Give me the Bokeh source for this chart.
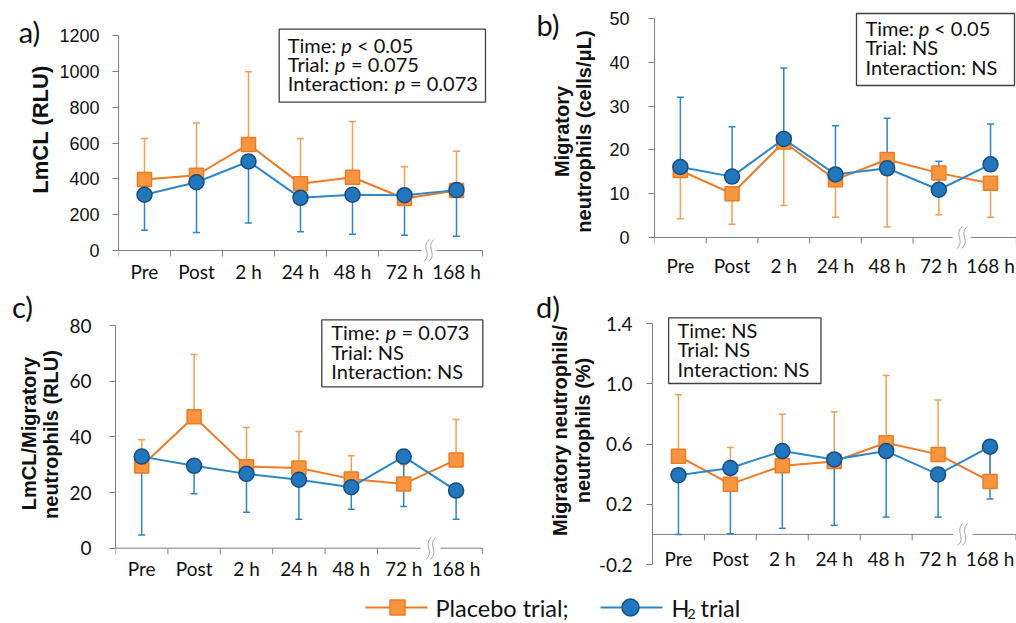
import math
from bokeh.plotting import figure
from bokeh.models import Range1d, FixedTicker, NumeralTickFormatter
from bokeh.layouts import column, row
from bokeh.embed import file_html
from bokeh.resources import INLINE
from bokeh.core.properties import value

# ---------------- data ----------------
categories = ["Pre", "Post", "2 h", "24 h", "48 h", "72 h", "168 h"]

# a) LmCL (RLU)
placebo_a = [396, 420, 592, 372, 409, 290, 335]
placebo_a_err = [625, 712, 997, 625, 720, 468, 554]
h2_a = [311, 381, 497, 294, 311, 309, 337]
h2_a_err = [113, 100, 154, 104, 91, 85, 80]

# b) Migratory neutrophils (cells/uL)
placebo_b = [15.3, 10.0, 21.8, 13.2, 17.8, 14.7, 12.4]
placebo_b_err = [4.3, 3.0, 7.3, 4.6, 2.4, 5.2, 4.6]
h2_b = [16.1, 13.9, 22.5, 14.4, 15.8, 10.9, 16.7]
h2_b_err = [32.0, 25.3, 38.7, 25.5, 27.2, 17.4, 25.9]

# c) LmCL / Migratory neutrophils (RLU)
placebo_c = [29.5, 47.2, 29.3, 28.8, 24.9, 23.1, 31.7]
placebo_c_err = [39.0, 69.6, 43.4, 41.9, 33.2, 30.0, 46.2]
h2_c = [32.9, 29.6, 26.7, 24.6, 21.9, 32.9, 20.7]
h2_c_err = [4.7, 19.6, 12.9, 10.4, 14.0, 15.0, 10.4]

# d) Migratory neutrophils / neutrophils (%)
placebo_d = [0.52, 0.334, 0.456, 0.485, 0.609, 0.532, 0.352]
placebo_d_err = [0.929, 0.578, 0.798, 0.816, 1.056, 0.893, 0.55]
h2_d = [0.394, 0.441, 0.554, 0.498, 0.554, 0.399, 0.583]
h2_d_err = [0.0, 0.004, 0.04, 0.06, 0.115, 0.115, 0.235]

yticks_a = [0, 200, 400, 600, 800, 1000, 1200]
yticks_b = [0, 10, 20, 30, 40, 50]
yticks_c = [0, 20, 40, 60, 80]
yticks_d = [-0.2, 0.2, 0.6, 1.0, 1.4]

# ---------------- style ----------------
ORANGE_LINE = "#F07A22"
ORANGE_FILL = "#F7963F"
ORANGE_ERR = "#F8A050"
BLUE_LINE = "#2A88C8"
BLUE_FILL = "#1F78BE"
BLUE_EDGE = "#1B4C7E"
BLUE_ERR = "#2A88C8"
AXIS = "#7F7F7F"
TXT = "#111111"
CAL = "Lato"
ARIAL = "Liberation Sans"

ROW1_H = 285
ROW2_H = 295

panels = [
    dict(letter="a)", fig=(0, 0, 508, ROW1_H), axis_x=118, axis_w=62, cat_w=52,
         cal=((0, 250), (1200, 35)), yticks=yticks_a, fmt=None,
         tick_font=ARIAL, tick_size="18px", standoff=13,
         data=(placebo_a, placebo_a_err, h2_a, h2_a_err),
         label_y=270.7, gap=(420.7, 436), waves=(426, 431),
         letter_pos=(29, 31),
         titles=[("LmCL (RLU)", 40, 129, "22px")],
         box=(278.7, 28.7, 485, 101.7),
         lines=[[(287.3, 44, "Time: ", False), (340.7, 44, "p", True), (356.5, 44, "< 0.05", False)],
                [(287.3, 63.3, "Trial: ", False), (334.3, 63.3, "p", True), (350.5, 63.3, "= 0.075", False)],
                [(287.3, 82.7, "Interaction: ", False), (394.3, 82.7, "p", True), (409.5, 82.7, "= 0.073", False)]]),
    dict(letter="b)", fig=(508, 0, 508, ROW1_H), axis_x=654, axis_w=55, cat_w=51.7,
         cal=((0, 237), (50, 18)), yticks=yticks_b, fmt=None,
         tick_font=ARIAL, tick_size="18px", standoff=19,
         data=(placebo_b, placebo_b_err, h2_b, h2_b_err),
         label_y=265, gap=(952, 970.7), waves=(959, 964),
         letter_pos=(547.5, 24),
         titles=[("Migratory", 561.7, 131, "20px"), ("neutrophils (cells/\u03bcL)", 583.3, 131, "20px")],
         box=(856, 13, 1014, 85),
         lines=[[(865, 27.7, "Time: ", False), (918.3, 27.7, "p", True), (933.5, 27.7, "< 0.05", False)],
                [(865, 46.7, "Trial: NS", False)],
                [(865, 66.7, "Interaction: NS", False)]]),
    dict(letter="c)", fig=(0, ROW1_H, 508, ROW2_H), axis_x=115, axis_w=50, cat_w=52.4,
         cal=((0, 547.7), (80, 325)), yticks=yticks_c, fmt=None,
         tick_font=CAL, tick_size="19px", standoff=18,
         data=(placebo_c, placebo_c_err, h2_c, h2_c_err),
         label_y=568.3, gap=(420, 440), waves=(428.3, 432.7),
         letter_pos=(22, 306),
         titles=[("LmCL/Migratory", 28.3, 433, "20px"), ("neutrophils (RLU)", 50, 434, "20px")],
         box=(321.3, 319.3, 482.3, 386.3),
         lines=[[(330.7, 331.7, "Time: ", False), (385, 331.7, "p", True), (401, 331.7, "= 0.073", False)],
                [(330.7, 351, "Trial: NS", False)],
                [(330.7, 370.7, "Interaction: NS", False)]]),
    dict(letter="d)", fig=(508, ROW1_H, 508, ROW2_H), axis_x=648, axis_w=53, cat_w=52.5,
         cal=((-0.2, 564), (1.4, 323.3)), yticks=yticks_d, fmt="0.0",
         tick_font=CAL, tick_size="19px", standoff=14,
         data=(placebo_d, placebo_d_err, h2_d, h2_d_err),
         label_y=558.3, gap=(951.7, 971.7), waves=(959.3, 964),
         letter_pos=(547.5, 305.5),
         titles=[("Migratory neutrophils/", 559.5, 430, "20px"), ("neutrophils (%)", 582, 430, "20px")],
         box=(664.3, 317.3, 818.3, 383),
         lines=[[(673.3, 329.3, "Time: NS", False)],
                [(673.3, 348.3, "Trial: NS", False)],
                [(673.3, 368.3, "Interaction: NS", False)]]),
]


def bare_fig(x0, y0, w, h):
    """A figure whose whole canvas is frame, data coordinates = page pixels."""
    f = figure(width=w, height=h, title=None, toolbar_location=None, output_backend="svg",
               x_axis_location=None, y_axis_location=None,
               x_range=Range1d(x0, x0 + w), y_range=Range1d(y0 + h, y0), min_border=0)
    f.outline_line_color = None
    f.grid.visible = False
    return f


def make_panel(cfg):
    fx, fy, W, H = cfg["fig"]
    ax_x = cfg["axis_x"]
    M = cfg["axis_w"]
    cw = cfg["cat_w"]
    (v0, p0), (v1, p1) = cfg["cal"]
    ppu = (p0 - p1) / (v1 - v0)

    # left strip with panel letter and y-axis title
    tw = ax_x - M - fx
    tf = bare_fig(fx, fy, tw, H)
    lx, ly = cfg["letter_pos"]
    tf.text(x=[lx], y=[ly], text=[cfg["letter"]], text_align="center", text_baseline="middle",
            text_font=value(CAL), text_font_size="29px", text_color=TXT)
    for (t, tx, ty, fs) in cfg["titles"]:
        tf.text(x=[tx], y=[ty], text=[t], angle=math.pi / 2, text_align="center",
                text_baseline="middle", text_font=value(ARIAL), text_font_style="bold",
                text_font_size=fs, text_color=TXT)

    def X(px):
        return (px - ax_x) / cw

    def Y(py):
        return v0 + (p0 - py) / ppu

    px0 = fx + tw
    pw = W - tw
    p = figure(width=pw, height=H, title=None, toolbar_location=None,
               output_backend="svg", x_axis_location=None,
               x_range=Range1d(X(px0 + M), X(px0 + pw)), y_range=Range1d(Y(fy + H), Y(fy)),
               min_border=0, min_border_left=M)
    p.outline_line_color = None
    p.grid.visible = False

    yt = cfg["yticks"]
    ax = p.yaxis[0]
    ax.ticker = FixedTicker(ticks=yt)
    ax.bounds = (yt[0], yt[-1])
    if cfg["fmt"]:
        ax.formatter = NumeralTickFormatter(format=cfg["fmt"])
    ax.axis_line_color = AXIS
    ax.major_tick_line_color = AXIS
    ax.major_tick_out = 6
    ax.major_tick_in = 0
    ax.minor_tick_line_color = None
    ax.major_label_text_font = cfg["tick_font"]
    ax.major_label_text_font_size = cfg["tick_size"]
    ax.major_label_text_color = TXT
    ax.major_label_standoff = cfg["standoff"]

    xs = [i + 0.5 for i in range(len(categories))]
    n = len(categories)

    # horizontal axis with break
    g0, g1 = X(cfg["gap"][0]), X(cfg["gap"][1])
    p.segment(x0=[0, g1], y0=[0, 0], x1=[g0, n], y1=[0, 0], line_color=AXIS, line_width=1)
    tick_x = [t for t in range(n + 1) if t != n - 1]
    p.segment(x0=tick_x, y0=[0] * len(tick_x), x1=tick_x, y1=[-6 / ppu] * len(tick_x),
              line_color=AXIS, line_width=1)
    wx = [X(w) for w in cfg["waves"]]
    p.bezier(x0=[w + 2.5 / cw for w in wx], y0=[11 / ppu] * 2,
             x1=[w - 2.5 / cw for w in wx], y1=[-11 / ppu] * 2,
             cx0=[w - 6 / cw for w in wx], cy0=[3 / ppu] * 2,
             cx1=[w + 6 / cw for w in wx], cy1=[-3 / ppu] * 2,
             line_color="#A6A6A6", line_width=1)
    p.text(x=xs, y=[Y(cfg["label_y"])] * n, text=categories, text_align="center",
           text_baseline="middle", text_font=value(CAL), text_font_size="19px",
           text_color=TXT)

    pl, pl_err, h2, h2_err = cfg["data"]
    # error bars (one-sided)
    p.segment(x0=xs, y0=pl, x1=xs, y1=pl_err, line_color=ORANGE_ERR, line_width=1.5)
    p.scatter(x=xs, y=pl_err, marker="dash", size=7, line_color=ORANGE_ERR, line_width=1.5)
    p.segment(x0=xs, y0=h2, x1=xs, y1=h2_err, line_color=BLUE_ERR, line_width=1.5)
    p.scatter(x=xs, y=h2_err, marker="dash", size=7, line_color=BLUE_ERR, line_width=1.5)
    # series
    p.line(x=xs, y=pl, line_color=ORANGE_LINE, line_width=2)
    p.scatter(x=xs, y=pl, marker="square", size=14, fill_color=ORANGE_FILL,
              line_color=ORANGE_LINE, line_width=1.5)
    p.line(x=xs, y=h2, line_color=BLUE_LINE, line_width=2)
    p.scatter(x=xs, y=h2, marker="circle", size=15, fill_color=BLUE_FILL,
              line_color=BLUE_EDGE, line_width=1.5)

    # stats box
    bx0, by0, bx1, by1 = cfg["box"]
    p.quad(left=[X(bx0)], right=[X(bx1)], top=[Y(by0)], bottom=[Y(by1)],
           fill_color="white", line_color="#404040", line_width=1.3)
    for line in cfg["lines"]:
        for (px, py, t, it) in line:
            p.text(x=[X(px)], y=[Y(py)], text=[t], text_align="left", text_baseline="middle",
                   text_font=value(CAL), text_font_size="20px", text_color=TXT,
                   text_font_style="italic" if it else "normal")
    return tf, p


pa = make_panel(panels[0])
pb = make_panel(panels[1])
pc = make_panel(panels[2])
pd = make_panel(panels[3])

# ---------------- legend strip ----------------
leg = bare_fig(0, 580, 1016, 43)
LY = 607
leg.line(x=[365, 427], y=[LY, LY], line_color=ORANGE_LINE, line_width=2)
leg.scatter(x=[397], y=[LY], marker="square", size=15, fill_color=ORANGE_FILL,
            line_color=ORANGE_LINE, line_width=1.5)
leg.text(x=[435], y=[LY], text=["Placebo trial;"], text_align="left", text_baseline="middle",
         text_font=value(CAL), text_font_size="23.5px", text_color=TXT)
leg.line(x=[600, 662], y=[LY, LY], line_color=BLUE_LINE, line_width=2)
leg.scatter(x=[630], y=[LY], marker="circle", size=17, fill_color=BLUE_FILL,
            line_color=BLUE_EDGE, line_width=1.5)
leg.text(x=[671], y=[LY], text=["H"], text_align="left", text_baseline="middle",
         text_font=value(CAL), text_font_size="23.5px", text_color=TXT)
leg.text(x=[687], y=[LY + 6], text=["2"], text_align="left", text_baseline="middle",
         text_font=value(CAL), text_font_size="14px", text_color=TXT)
leg.text(x=[700], y=[LY], text=["trial"], text_align="left", text_baseline="middle",
         text_font=value(CAL), text_font_size="23.5px", text_color=TXT)

layout = column(row(pa[0], pa[1], pb[0], pb[1]), row(pc[0], pc[1], pd[0], pd[1]), leg)

open("out.html", "w").write(file_html(layout, INLINE))
